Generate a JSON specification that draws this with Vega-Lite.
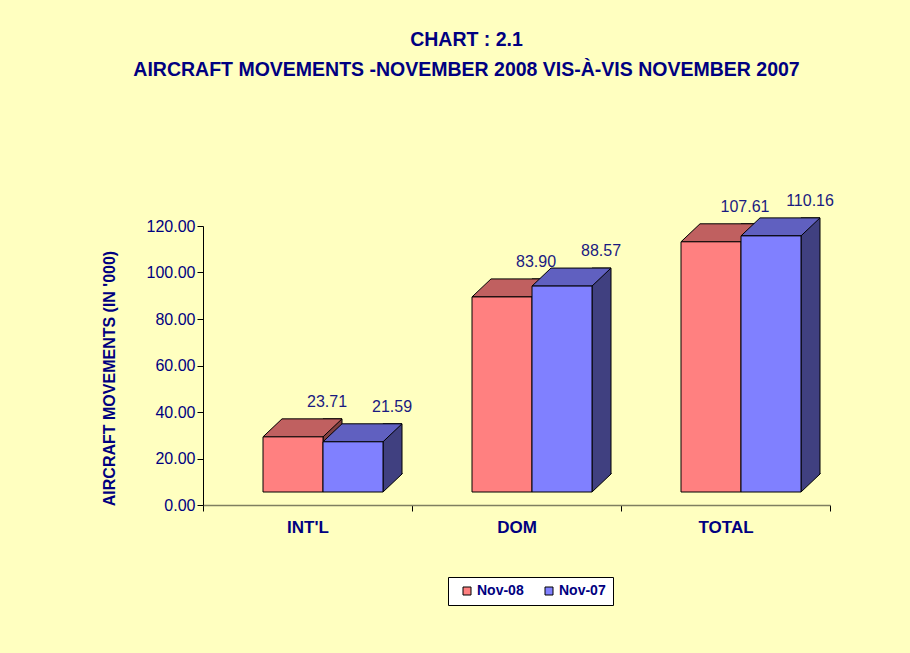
{
  "$schema": "https://vega.github.io/schema/vega-lite/v6.json",
  "width": 627,
  "height": 279,
  "autosize": {"type": "none"},
  "padding": {"left": 203, "top": 226, "right": 80, "bottom": 148},
  "background": "#FFFFC0",
  "config": {"view": {"stroke": null}},
  "title": {
    "text": ["CHART : 2.1", "AIRCRAFT MOVEMENTS -NOVEMBER  2008 VIS-À-VIS NOVEMBER 2007"],
    "font": "Liberation Sans",
    "fontSize": 19.5,
    "fontWeight": "bold",
    "color": "#000080",
    "anchor": "middle",
    "frame": "group",
    "dx": -50,
    "offset": 112,
    "lineHeight": 30
  },
  "data": {
    "values": [
      {"cat": "INT'L", "series": "Nov-08", "value": 23.71},
      {"cat": "INT'L", "series": "Nov-07", "value": 21.59},
      {"cat": "DOM", "series": "Nov-08", "value": 83.90},
      {"cat": "DOM", "series": "Nov-07", "value": 88.57},
      {"cat": "TOTAL", "series": "Nov-08", "value": 107.61},
      {"cat": "TOTAL", "series": "Nov-07", "value": 110.16}
    ]
  },
  "resolve": {"scale": {"xOffset": "independent"}},
  "encoding": {
    "x": {
      "field": "cat",
      "type": "nominal",
      "sort": ["INT'L", "DOM", "TOTAL"],
      "scale": {"paddingInner": 0, "paddingOuter": 0},
      "axis": {
        "title": null,
        "labelAngle": 0,
        "labelFont": "Liberation Sans",
        "labelFontWeight": "bold",
        "labelFontSize": 17,
        "labelColor": "#000080",
        "labelPadding": 8,
        "domainColor": "#7F7F60",
        "domainWidth": 1.5,
        "tickColor": "#000000",
        "tickSize": 6,
        "tickBand": "extent"
      }
    },
    "y": {
      "field": "value",
      "type": "quantitative",
      "stack": null,
      "scale": {"domain": [0, 120], "nice": false},
      "axis": {
        "values": [0, 20, 40, 60, 80, 100, 120],
        "format": ".2f",
        "grid": false,
        "labelFont": "Liberation Sans",
        "labelFontSize": 16,
        "labelColor": "#000080",
        "labelPadding": 2,
        "tickColor": "#000000",
        "tickSize": 6,
        "domainColor": "#000000",
        "title": "AIRCRAFT MOVEMENTS (IN '000)",
        "titleFont": "Liberation Sans",
        "titleFontSize": 16,
        "titleFontWeight": "bold",
        "titleColor": "#000080",
        "titleX": -94,
        "titleY": 152,
        "titleAngle": -90,
        "titleAlign": "center",
        "titleBaseline": "middle"
      }
    }
  },
  "layer": [
    {
      "mark": {"type": "bar", "yOffset": -31, "y2Offset": -31, "stroke": "#000000", "strokeWidth": 1},
      "encoding": {
        "xOffset": {"field": "series", "type": "nominal", "sort": ["Nov-08", "Nov-07"], "scale": {"type": "band", "range": [120, 199], "paddingInner": 0.68333, "paddingOuter": 0}},
        "y2": {"datum": 0},
        "fill": {"condition": {"test": "datum.series === 'Nov-08'", "value": "#804040"}, "value": "#404080"}
      }
    },
    {
      "mark": {"type": "point", "shape": "M30,-19L30,0L49,-18L49,-19", "size": 4, "filled": true, "opacity": 1, "yOffset": -13, "stroke": "#000000", "strokeWidth": 1},
      "encoding": {
        "xOffset": {"field": "series", "type": "nominal", "sort": ["Nov-08", "Nov-07"], "scale": {"type": "point", "range": [90, 150], "padding": 0}},
        "y": {"datum": 0, "type": "quantitative"},
        "fill": {"condition": {"test": "datum.series === 'Nov-08'", "value": "#804040"}, "value": "#404080"}
      }
    },
    {
      "mark": {"type": "point", "shape": "M-30,0L30,0L49,-18L-11,-18Z", "size": 4, "filled": true, "opacity": 1, "yOffset": -13, "stroke": "#000000", "strokeWidth": 1},
      "encoding": {
        "xOffset": {"field": "series", "type": "nominal", "sort": ["Nov-08", "Nov-07"], "scale": {"type": "point", "range": [90, 150], "padding": 0}},
        "fill": {"condition": {"test": "datum.series === 'Nov-08'", "value": "#C06060"}, "value": "#6060C0"}
      }
    },
    {
      "mark": {"type": "bar", "yOffset": -13, "y2Offset": -13, "stroke": "#000000", "strokeWidth": 1},
      "encoding": {
        "xOffset": {"field": "series", "type": "nominal", "sort": ["Nov-08", "Nov-07"], "scale": {"type": "band", "range": [60, 180], "paddingInner": 0, "paddingOuter": 0}},
        "y2": {"datum": 0},
        "color": {
          "field": "series",
          "type": "nominal",
          "sort": ["Nov-08", "Nov-07"],
          "scale": {"domain": ["Nov-08", "Nov-07"], "range": ["#FF8080", "#8080FF"]},
          "legend": {
            "orient": "none",
            "legendX": 245,
            "legendY": 351,
            "direction": "horizontal",
            "title": null,
            "fillColor": "#FFFFFF",
            "strokeColor": "#000000",
            "padding": 7,
            "symbolType": "square",
            "symbolSize": 64,
            "symbolStrokeColor": "#000000",
            "symbolStrokeWidth": 1,
            "labelFont": "Liberation Sans",
            "labelFontWeight": "bold",
            "labelFontSize": 14,
            "labelColor": "#000080",
            "labelOffset": 3,
            "columnPadding": 13,
            "symbolOffset": 5
          }
        }
      }
    },
    {
      "mark": {"type": "text", "yOffset": -48, "baseline": "middle", "font": "Liberation Sans", "fontSize": 16, "color": "#1A1A80"},
      "encoding": {
        "xOffset": {"field": "series", "type": "nominal", "sort": ["Nov-08", "Nov-07"], "scale": {"type": "point", "range": [124, 189], "padding": 0}},
        "text": {"field": "value", "type": "quantitative", "format": ".2f"}
      }
    }
  ]
}
